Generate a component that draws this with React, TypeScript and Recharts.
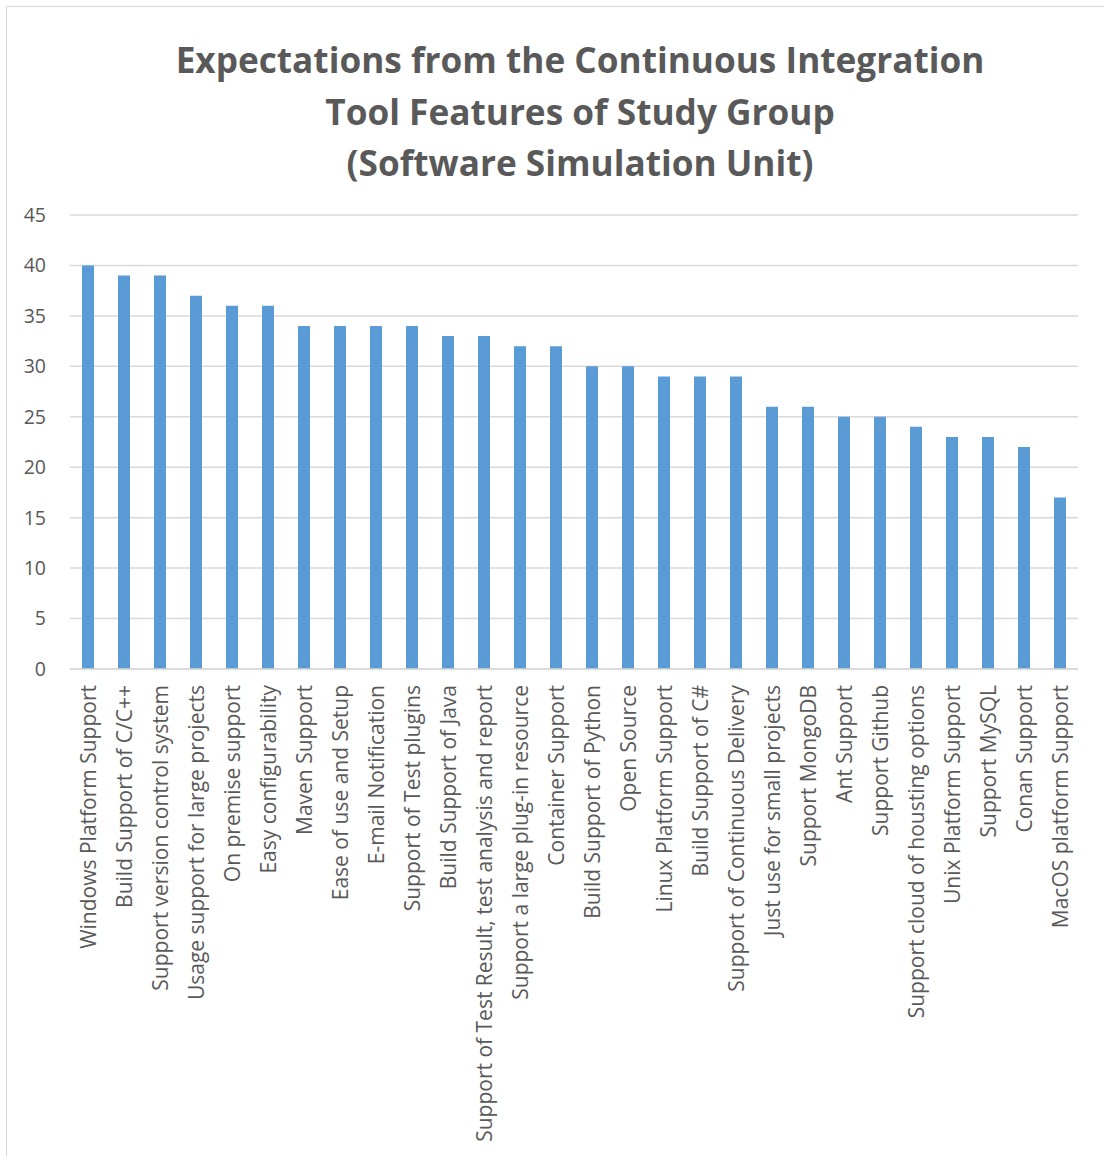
import React from "react";
import { BarChart, Bar, XAxis, YAxis, CartesianGrid } from "recharts";

const FEATURES = [
  "Windows Platform Support",
  "Build Support of C/C++",
  "Support version control system",
  "Usage support for large projects",
  "On premise support",
  "Easy configurability",
  "Maven Support",
  "Ease of use and Setup",
  "E-mail Notification",
  "Support of Test plugins",
  "Build Support of Java",
  "Support of Test Result, test analysis and report",
  "Support a large plug-in resource",
  "Container Support",
  "Build Support of Python",
  "Open Source",
  "Linux Platform Support",
  "Build Support of C#",
  "Support of Continuous Delivery",
  "Just use for small projects",
  "Support MongoDB",
  "Ant Support",
  "Support Github",
  "Support cloud of housting options",
  "Unix Platform Support",
  "Support MySQL",
  "Conan Support",
  "MacOS platform Support",
];

const COUNTS = [
  40, 39, 39, 37, 36, 36, 34, 34, 34, 34, 33, 33, 32, 32, 30, 30, 29, 29, 29,
  26, 26, 25, 25, 24, 23, 23, 22, 17,
];

const Y_TICKS = [0, 5, 10, 15, 20, 25, 30, 35, 40, 45];

const TITLE = [
  "Expectations from the Continuous Integration",
  "Tool Features of Study Group",
  "(Software Simulation Unit)",
];

const data = FEATURES.map((name, i) => ({ name, value: COUNTS[i] }));

const FONT = "'Open Sans', 'Noto Sans', sans-serif";
const TEXT = "#595959";

// category names run bottom-to-top, ending just under the axis
function FeatureTick(props: any) {
  const { x, y, payload } = props;
  return (
    <text
      x={0}
      y={0}
      transform={`translate(${x + 7.5},${y + 8}) rotate(-90)`}
      textAnchor="end"
      fill={TEXT}
      fontSize={21}
      fontFamily={FONT}
    >
      {payload.value}
    </text>
  );
}

export default function App() {
  return (
    <div
      style={{
        position: "relative",
        width: 1104,
        height: 1156,
        overflow: "hidden",
        background: "#fff",
      }}
    >
      <style>{"body{margin:0}"}</style>
      <div
        style={{
          position: "absolute",
          left: 6,
          top: 6,
          width: 1300,
          height: 1300,
          border: "1.5px solid #d9d9d9",
        }}
      />
      <div
        style={{
          position: "absolute",
          left: 80,
          width: 1000,
          top: 34,
          textAlign: "center",
          fontFamily: FONT,
          fontWeight: 700,
          fontSize: 35.2,
          lineHeight: "51.5px",
          color: TEXT,
        }}
      >
        {TITLE.map((t) => (
          <div key={t}>{t}</div>
        ))}
      </div>
      <div style={{ position: "absolute", left: 0, top: 0 }}>
        <BarChart
          width={1104}
          height={1156}
          data={data}
          margin={{ top: 215, right: 26, left: 0, bottom: 0 }}
        >
          <CartesianGrid vertical={false} stroke="#d9d9d9" strokeWidth={1.5} />
          <XAxis
            dataKey="name"
            interval={0}
            height={487}
            tick={<FeatureTick />}
            tickLine={false}
            axisLine={{ stroke: "#d9d9d9", strokeWidth: 1.5 }}
          />
          <YAxis
            width={70}
            domain={[0, 45]}
            ticks={Y_TICKS}
            tickLine={false}
            axisLine={false}
            tickSize={0}
            tickMargin={24}
            tick={{ fill: TEXT, fontSize: 19.5, fontFamily: FONT }}
          />
          <Bar
            dataKey="value"
            fill="#5b9bd5"
            barSize={12}
            isAnimationActive={false}
          />
        </BarChart>
      </div>
    </div>
  );
}
